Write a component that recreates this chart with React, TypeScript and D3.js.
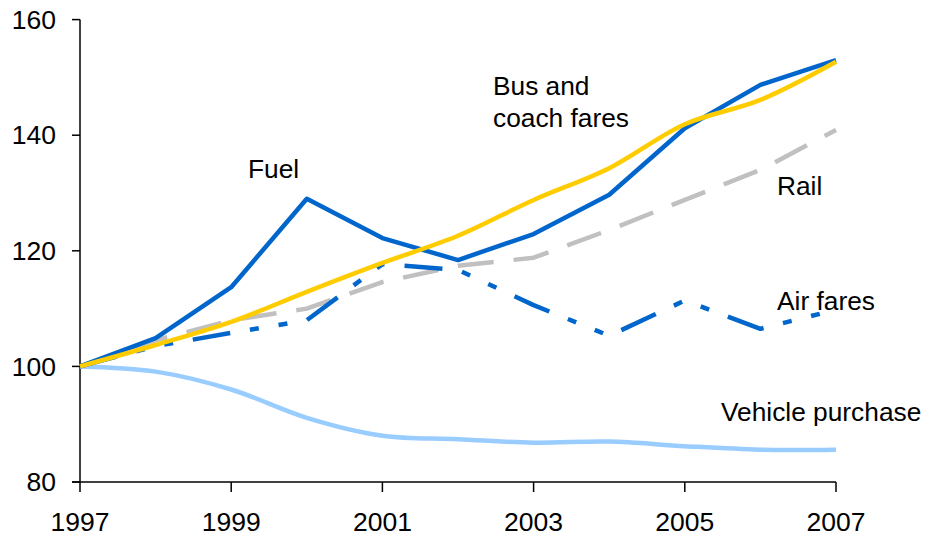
import * as d3 from "d3";

const years = [1997, 1998, 1999, 2000, 2001, 2002, 2003, 2004, 2005, 2006, 2007];
const fuel = [100, 104.9, 113.7, 129, 122.2, 118.4, 122.9, 129.7, 141.2, 148.7, 153];
const busCoach = [100, 103.7, 107.7, 112.9, 117.9, 122.6, 128.8, 134.3, 141.9, 146.1, 152.7];
const rail = [100, 104.5, 108, 110, 114.6, 117.4, 118.8, 123.6, 128.8, 134, 140.9];
const airFares = [100, 103.5, 105.8, 108, 117.7, 116.7, 110.6, 105.3, 111.4, 106.5, 109.8];
const vehicle = [100, 99.1, 96, 91.1, 88, 87.4, 86.8, 87, 86.2, 85.6, 85.6];
const yTicks = [80, 100, 120, 140, 160];
const xTicks = [1997, 1999, 2001, 2003, 2005, 2007];

const App = () => {
  const width = 926;
  const height = 538;
  const font = "Arial, 'Liberation Sans', sans-serif";

  const x = d3.scaleLinear([1997, 2007], [80, 836]);
  const y = d3.scaleLinear([80, 160], [482, 19.6]);

  const straight = d3
    .line<number>()
    .x((_, i) => x(years[i]))
    .y((d) => y(d));
  const smooth = d3
    .line<number>()
    .x((_, i) => x(years[i]))
    .y((d) => y(d))
    .curve(d3.curveCatmullRom.alpha(0.5));

  const series = [
    { values: vehicle, color: "#99CCFF", dash: undefined, gen: smooth },
    { values: rail, color: "#C0C0C0", dash: "36,20", gen: straight },
    { values: airFares, color: "#0066CC", dash: "38,20,9,20,9,20", gen: straight },
    { values: fuel, color: "#0066CC", dash: undefined, gen: straight },
    { values: busCoach, color: "#FFCC00", dash: undefined, gen: smooth },
  ];

  const labels = [
    { text: "Fuel", x: 248, y: 178 },
    { text: "Bus and", x: 493, y: 95 },
    { text: "coach fares", x: 493, y: 127 },
    { text: "Rail", x: 777, y: 195 },
    { text: "Air fares", x: 777, y: 310 },
    { text: "Vehicle purchase", x: 721, y: 421 },
  ];

  return (
    <svg
      width={width}
      height={height}
      style={{ position: "absolute", left: 0, top: 0, background: "#fff" }}
      fontFamily={font}
    >
      {/* axes */}
      <g stroke='#000' strokeWidth={1.5}>
        <line x1={80} x2={80} y1={y(160)} y2={y(80)} />
        <line x1={72} x2={x(2007)} y1={y(80)} y2={y(80)} />
        {yTicks.map((t) => (
          <line key={t} x1={72} x2={80} y1={y(t)} y2={y(t)} />
        ))}
        {xTicks.map((t) => (
          <line key={t} x1={x(t)} x2={x(t)} y1={y(80)} y2={y(80) + 10} />
        ))}
      </g>
      <g fontSize={26.5} fill='#000'>
        {yTicks.map((t) => (
          <text key={t} x={56} y={y(t)} dy='0.35em' textAnchor='end'>
            {t}
          </text>
        ))}
        {xTicks.map((t) => (
          <text key={t} x={x(t)} y={531} textAnchor='middle'>
            {t}
          </text>
        ))}
      </g>

      {/* lines */}
      {series.map((s, i) => (
        <path
          key={i}
          d={s.gen(s.values)!}
          fill='none'
          stroke={s.color}
          strokeWidth={4.5}
          strokeDasharray={s.dash}
          strokeLinejoin='round'
        />
      ))}

      {/* labels */}
      <g fontSize={26.3} fill='#000'>
        {labels.map((l) => (
          <text key={l.text} x={l.x} y={l.y}>
            {l.text}
          </text>
        ))}
      </g>
    </svg>
  );
};

export default App;
